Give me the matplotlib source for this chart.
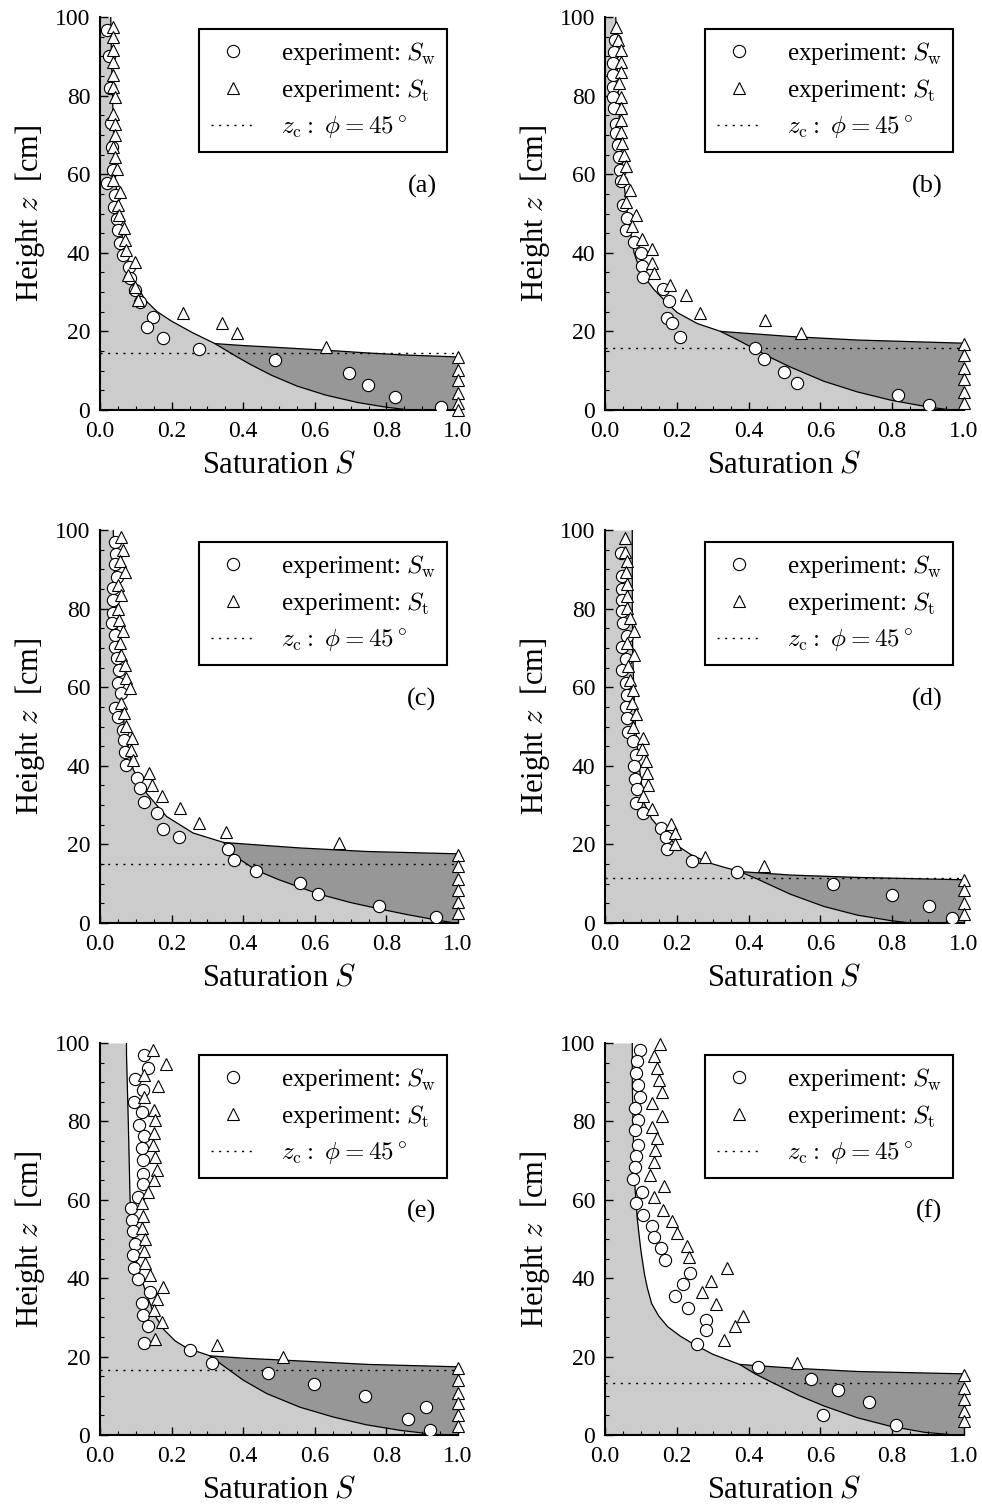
import numpy as np
import matplotlib
matplotlib.use('Agg')
import matplotlib.pyplot as plt
from matplotlib.ticker import MultipleLocator

plt.rcParams['font.family'] = ['Liberation Serif', 'DejaVu Serif']
plt.rcParams['mathtext.fontset'] = 'cm'

# ---- panel (a) ----
sw_s_a = [0.02, 0.025, 0.028, 0.03, 0.033, 0.036, 0.019, 0.042, 0.04, 0.047, 0.05, 0.056, 0.063,
          0.082, 0.084, 0.098, 0.112, 0.147, 0.130, 0.177, 0.277, 0.488, 0.696, 0.749, 0.823, 0.953]
sw_z_a = [96.8, 90, 82, 73, 67, 61, 57.8, 54.7, 51.7, 48.7, 45.7, 42.4, 39.4,
          36.4, 33.5, 30.5, 27.5, 23.7, 21.2, 18.2, 15.4, 12.7, 9.5, 6.4, 3.4, 0.8]
st_s_a = [0.035, 0.035, 0.035, 0.035, 0.035, 0.035, 0.042, 0.037, 0.042, 0.042, 0.037, 0.042,
          0.047, 0.037, 0.056, 0.051, 0.054, 0.067, 0.070, 0.074, 0.098, 0.079, 0.098, 0.107,
          0.233, 0.340, 0.384, 0.631, 1.0, 1.0, 1.0, 1.0, 1.0, 1.0]
st_z_a = [97.5, 95, 91.5, 88.6, 85.2, 82.2, 79.7, 75.4, 72.9, 69.9, 66.9, 64.4, 61.4, 58.5,
          55.5, 52.1, 49.6, 46.2, 43.2, 40.7, 37.7, 34.3, 31.4, 28, 24.6, 22.2, 19.7, 16.1,
          13.6, 10.2, 7.6, 4.2, 1.7, 0]
curve_s_a = [0.03, 0.032, 0.035, 0.038, 0.042, 0.05, 0.06, 0.075, 0.095, 0.126, 0.16, 0.2, 0.26,
             0.321, 0.37, 0.42, 0.48, 0.55, 0.63, 0.72, 0.80, 0.865]
curve_z_a = [100, 90, 80, 70, 60, 52, 45, 39, 33, 28, 25, 22.6, 19.6,
             16.9, 14.2, 11.6, 8.8, 6.1, 3.8, 1.9, 0.7, 0]
branch_s_a = [0.321, 0.4, 0.5, 0.633, 0.75, 0.85, 1.0]
branch_z_a = [16.9, 16.4, 15.9, 15.2, 14.5, 14.0, 13.5]
zc_a = 14.6

# ---- panel (b) ----
sw_s_b = [0.028, 0.025, 0.023, 0.023, 0.023, 0.023, 0.025, 0.03, 0.03, 0.035, 0.039, 0.042,
          0.044, 0.051, 0.062, 0.058, 0.081, 0.101, 0.104, 0.107, 0.162, 0.178, 0.174, 0.188,
          0.209, 0.418, 0.443, 0.499, 0.534, 0.816, 0.902]
sw_z_b = [94.2, 91.1, 88.3, 85.2, 82.2, 79.7, 76.8, 72.9, 70.4, 67.5, 64.5, 61.1,
          58.2, 52.2, 48.9, 45.9, 42.7, 40, 36.6, 33.9, 30.9, 27.7, 23.5, 22.1,
          18.7, 15.9, 13.1, 9.7, 6.8, 3.8, 1.3]
st_s_b = [0.030, 0.036, 0.044, 0.044, 0.044, 0.039, 0.044, 0.044, 0.044, 0.044, 0.048, 0.053,
          0.058, 0.051, 0.071, 0.058, 0.085, 0.076, 0.104, 0.132, 0.132, 0.136, 0.181, 0.225,
          0.264, 0.445, 0.547, 1.0, 1.0, 1.0, 1.0, 1.0, 1.0]
st_z_b = [97.5, 94.2, 91.5, 88.6, 86, 83.1, 79.7, 76.8, 73.8, 70.8, 67.9, 64.9,
          62, 59, 55.9, 52.8, 49.7, 46.9, 43.5, 41, 37.4, 34.9, 31.7, 29.2,
          24.8, 22.9, 19.7, 16.7, 13.9, 10.8, 7.9, 4.6, 1.9]
curve_s_b = [0.03, 0.033, 0.037, 0.042, 0.05, 0.062, 0.081, 0.1, 0.136, 0.17, 0.201, 0.257,
             0.322, 0.37, 0.418, 0.46, 0.517, 0.61, 0.703, 0.796, 0.898, 0.963]
curve_z_b = [100, 90, 80, 70, 60, 50, 40, 35, 30.7, 27.5, 24.8, 22.0,
             20.0, 17.8, 15.5, 13.4, 10.9, 7.3, 4.6, 2.5, 0.8, 0]
branch_s_b = [0.322, 0.517, 0.703, 1.0]
branch_z_b = [20.0, 18.7, 17.8, 17.0]
zc_b = 15.9

# ---- panel (c) ----
sw_s_c = [0.042, 0.045, 0.042, 0.048, 0.037, 0.037, 0.037, 0.033, 0.042, 0.042, 0.048, 0.054,
          0.051, 0.06, 0.042, 0.051, 0.063, 0.067, 0.07, 0.073, 0.104, 0.112, 0.123, 0.158,
          0.177, 0.221, 0.358, 0.374, 0.437, 0.558, 0.609, 0.78, 0.938]
sw_z_c = [96.9, 93.8, 91.3, 88.1, 85.2, 82.2, 79, 76.3, 73.3, 70.3, 67.4, 64.4,
          61, 58.5, 54.8, 52.5, 49.2, 46.6, 43.6, 40.3, 37, 34.3, 30.9, 28,
          23.9, 21.9, 18.8, 16.1, 13.3, 10.3, 7.5, 4.4, 1.5]
st_s_c = [0.06, 0.063, 0.056, 0.07, 0.051, 0.058, 0.051, 0.054, 0.063, 0.056, 0.06, 0.07,
          0.073, 0.084, 0.058, 0.067, 0.073, 0.088, 0.087, 0.093, 0.138, 0.144, 0.172, 0.223,
          0.277, 0.353, 0.668, 1.0, 1.0, 1.0, 1.0, 1.0, 1.0]
st_z_c = [98.3, 94.9, 92, 89.4, 86, 83.5, 79.9, 77.1, 74.2, 71.2, 68.2, 65.7,
          62.3, 59.7, 55.9, 53.4, 50.2, 47, 44.1, 41.5, 38.1, 35.2, 32.2, 29.2,
          25.4, 23.1, 20.3, 17.4, 14.6, 11.2, 8.5, 5.3, 2.5]
curve_s_c = [0.037, 0.04, 0.045, 0.05, 0.057, 0.068, 0.08, 0.093, 0.13, 0.186, 0.26, 0.345,
             0.38, 0.437, 0.5, 0.558, 0.61, 0.7, 0.78, 0.86, 0.938, 0.99]
curve_z_c = [100, 90, 80, 70, 60, 50, 44, 39, 33, 27.1, 22.9, 20.5,
             16.8, 13.4, 11.0, 9.1, 7.4, 5.2, 3.6, 2.1, 0.8, 0]
branch_s_c = [0.345, 0.45, 0.558, 0.744, 1.0]
branch_z_c = [20.5, 19.8, 19.1, 18.2, 17.6]
zc_c = 15.0

# ---- panel (d) ----
sw_s_d = [0.044, 0.046, 0.048, 0.048, 0.046, 0.051, 0.062, 0.048, 0.058, 0.048, 0.058, 0.062,
          0.058, 0.062, 0.064, 0.079, 0.085, 0.081, 0.083, 0.088, 0.085, 0.107, 0.155, 0.169,
          0.172, 0.241, 0.369, 0.636, 0.8, 0.903, 0.967]
sw_z_d = [94.1, 88.3, 85, 82.2, 79.4, 76.3, 73.1, 70.3, 67.1, 64.4, 61, 58.1,
          54.9, 52.1, 48.7, 46.2, 42.8, 40, 36.6, 34.1, 30.5, 28.1, 24.2, 21.9,
          18.8, 15.9, 13.1, 10, 7.2, 4.2, 1.3]
st_s_d = [0.056, 0.056, 0.06, 0.058, 0.06, 0.062, 0.06, 0.07, 0.081, 0.062, 0.081, 0.064,
          0.07, 0.079, 0.074, 0.087, 0.079, 0.107, 0.104, 0.113, 0.116, 0.12, 0.107, 0.132,
          0.183, 0.194, 0.195, 0.279, 0.443, 1.0, 1.0, 1.0, 1.0]
st_z_d = [97.9, 94.5, 92, 89.4, 86.3, 83.1, 80.1, 77.5, 74.4, 71.2, 68.2, 65.3,
          61.9, 59.3, 56.1, 53.2, 50, 47, 44.2, 41.1, 38.1, 35.2, 32.2, 29,
          25.3, 22.9, 20.1, 16.9, 14.4, 11.0, 8.3, 5.1, 2.4]
curve_s_d = [0.076, 0.076, 0.077, 0.08, 0.085, 0.095, 0.109, 0.13, 0.164, 0.2, 0.239, 0.29,
             0.331, 0.375, 0.424, 0.517, 0.61, 0.703, 0.796, 0.851]
curve_z_d = [100, 80, 70, 60, 50, 40, 30.5, 26.5, 22.8, 19.8, 17.4, 15.3,
             14.2, 13.1, 11.2, 7.3, 4.2, 2.0, 0.6, 0]
branch_s_d = [0.375, 0.517, 0.703, 1.0]
branch_z_d = [13.1, 12.2, 11.6, 11.0]
zc_d = 11.4

# ---- panel (e) ----
sw_s_e = [0.124, 0.135, 0.098, 0.119, 0.095, 0.116, 0.11, 0.123, 0.118, 0.121, 0.121, 0.119,
          0.105, 0.087, 0.09, 0.091, 0.098, 0.093, 0.096, 0.105, 0.14, 0.116, 0.121, 0.133,
          0.123, 0.251, 0.313, 0.468, 0.598, 0.74, 0.86, 0.91, 0.921]
sw_z_e = [96.9, 93.5, 90.9, 88.1, 85, 82.4, 79, 76.2, 73.1, 70.1, 66.7, 64,
          60.7, 57.8, 54.8, 52.1, 48.7, 45.9, 42.5, 39.9, 36.5, 33.6, 30.6, 27.8,
          23.4, 21.8, 18.4, 15.9, 12.9, 9.9, 4.0, 7.2, 1.3]
st_s_e = [0.149, 0.183, 0.123, 0.161, 0.123, 0.151, 0.155, 0.152, 0.149, 0.153, 0.158, 0.152,
          0.133, 0.118, 0.121, 0.116, 0.126, 0.123, 0.126, 0.14, 0.177, 0.158, 0.151, 0.172,
          0.153, 0.326, 0.512, 1.0, 1.0, 1.0, 1.0, 1.0, 1.0]
st_z_e = [98.3, 94.7, 91.9, 89, 86.2, 83, 80.3, 77.1, 73.9, 70.9, 67.7, 65,
          62, 59.2, 55.8, 52.9, 49.9, 47, 43.8, 40.8, 37.8, 34.8, 31.9, 28.9,
          24.6, 22.9, 19.8, 17, 14, 10.8, 8.2, 5.1, 2.3]
curve_s_e = [0.074, 0.074, 0.079, 0.084, 0.092, 0.10, 0.115, 0.13, 0.15, 0.177, 0.21, 0.242,
             0.307, 0.35, 0.40, 0.465, 0.558, 0.651, 0.744, 0.837, 0.92, 0.96]
curve_z_e = [100, 97, 80, 60, 50, 45, 40, 36, 31, 27, 24, 22.2,
             20.2, 17.3, 14.0, 10.6, 7.1, 4.6, 2.6, 1.2, 0.3, 0]
branch_s_e = [0.307, 0.4, 0.512, 0.75, 1.0]
branch_z_e = [20.2, 19.6, 19.1, 18.0, 17.4]
zc_e = 16.6

# ---- panel (f) ----
sw_s_f = [0.097, 0.088, 0.087, 0.093, 0.097, 0.083, 0.093, 0.083, 0.093, 0.087, 0.083, 0.078,
          0.104, 0.087, 0.107, 0.132, 0.136, 0.157, 0.166, 0.237, 0.218, 0.194, 0.232, 0.28,
          0.28, 0.257, 0.427, 0.575, 0.649, 0.735, 0.607, 0.81]
sw_z_f = [98.3, 95.4, 92.4, 89.2, 86.3, 83.5, 80.3, 77.8, 74, 71.2, 68.4, 65.2,
          62.1, 59.3, 56.1, 53.4, 50.6, 47.7, 44.7, 41.3, 38.5, 35.4, 32.4, 29.4,
          26.7, 23.3, 17.3, 14.4, 11.4, 8.5, 5.0, 2.5]
st_s_f = [0.152, 0.136, 0.146, 0.15, 0.16, 0.132, 0.16, 0.132, 0.146, 0.139, 0.136, 0.125,
          0.136, 0.164, 0.162, 0.188, 0.201, 0.229, 0.234, 0.341, 0.294, 0.271, 0.31, 0.384,
          0.362, 0.331, 0.536, 1.0, 1.0, 1.0, 1.0, 1.0]
st_z_f = [99.7, 96.6, 93.5, 90.5, 87.5, 84.6, 81.3, 78.6, 75.7, 72.7, 69.7, 66.3,
          60.8, 63.4, 57.4, 54.5, 51.5, 48.1, 45.5, 42.6, 39.2, 36.4, 33.5, 30.4,
          27.7, 24.3, 18.4, 15.2, 12, 9.2, 6.1, 3.6]
curve_s_f = [0.076, 0.076, 0.078, 0.082, 0.09, 0.1, 0.11, 0.118, 0.13, 0.15, 0.175, 0.21,
             0.245, 0.3, 0.375, 0.42, 0.468, 0.542, 0.61, 0.703, 0.796, 0.889, 0.972]
curve_z_f = [100, 90, 80, 65, 55, 47, 41, 37.5, 33.5, 30.3, 27.6, 25.2,
             23.3, 20.6, 18.0, 15.5, 13.3, 10.0, 7.4, 4.4, 2.2, 0.7, 0]
branch_s_f = [0.375, 0.533, 0.703, 1.0]
branch_z_f = [18.0, 17.0, 16.2, 15.6]
zc_f = 13.3

panels = [
    ('(a)', sw_s_a, sw_z_a, st_s_a, st_z_a, curve_s_a, curve_z_a, branch_s_a, branch_z_a, zc_a),
    ('(b)', sw_s_b, sw_z_b, st_s_b, st_z_b, curve_s_b, curve_z_b, branch_s_b, branch_z_b, zc_b),
    ('(c)', sw_s_c, sw_z_c, st_s_c, st_z_c, curve_s_c, curve_z_c, branch_s_c, branch_z_c, zc_c),
    ('(d)', sw_s_d, sw_z_d, st_s_d, st_z_d, curve_s_d, curve_z_d, branch_s_d, branch_z_d, zc_d),
    ('(e)', sw_s_e, sw_z_e, st_s_e, st_z_e, curve_s_e, curve_z_e, branch_s_e, branch_z_e, zc_e),
    ('(f)', sw_s_f, sw_z_f, st_s_f, st_z_f, curve_s_f, curve_z_f, branch_s_f, branch_z_f, zc_f),
]

light = '#cbcccb'
dark = '#979797'

fig = plt.figure(figsize=(9.82, 15.06), dpi=100)

# axes boxes in pixels (left, top, right, bottom)
cols = [(100, 458), (605, 964)]
rows = [(17, 410), (530, 923), (1043, 1435)]
W, H = 982.0, 1506.0

for i, (tag, sw_s, sw_z, st_s, st_z, c_s, c_z, b_s, b_z, zc) in enumerate(panels):
    x0, x1 = cols[i % 2]
    y0, y1 = rows[i // 2]
    ax = fig.add_axes([x0 / W, 1 - y1 / H, (x1 - x0) / W, (y1 - y0) / H])

    c_s = np.array(c_s)
    c_z = np.array(c_z)
    # light region: left of the model curve
    ax.fill_betweenx(c_z, 0, c_s, color=light, lw=0, zorder=1)
    # dark region: between the two branches, closed by S = 1
    k = np.argmin(np.abs(c_s - b_s[0]))
    low_s = c_s[k:]
    low_z = c_z[k:]
    poly_s = list(b_s) + [1.0] + list(low_s[::-1])
    poly_z = list(b_z) + [0.0] + list(low_z[::-1])
    ax.fill(poly_s, poly_z, color=dark, lw=0, zorder=1)

    ax.plot(c_s, c_z, color='k', lw=0.9, zorder=2)
    ax.plot(b_s, b_z, color='k', lw=0.9, zorder=2)
    ax.plot([0, 1], [zc, zc], color='k', lw=1.0, ls=(0, (1.5, 4)), zorder=2,
            label=r'$z_{\rm c}:\ \phi = 45^\circ$')

    ax.plot(sw_s, sw_z, 'o', ms=8.8, mfc='white', mec='k', mew=0.8, zorder=3,
            label=r'experiment: $S_{\rm w}$')
    ax.plot(st_s, st_z, '^', ms=9.2, mfc='white', mec='k', mew=0.8, zorder=4,
            label=r'experiment: $S_{\rm t}$', clip_on=False)

    ax.set_xlim(0, 1)
    ax.set_ylim(0, 100)
    ax.spines['top'].set_visible(False)
    ax.spines['right'].set_visible(False)
    ax.spines['left'].set_linewidth(1.5)
    ax.spines['bottom'].set_linewidth(1.5)
    ax.xaxis.set_major_locator(MultipleLocator(0.2))
    ax.xaxis.set_minor_locator(MultipleLocator(0.05))
    ax.yaxis.set_major_locator(MultipleLocator(20))
    ax.yaxis.set_minor_locator(MultipleLocator(5))
    ax.xaxis.set_major_formatter(plt.FuncFormatter(lambda v, p: '%.1f' % v))
    ax.tick_params(which='both', direction='in', top=False, right=False, labelsize=17)
    ax.tick_params(which='major', length=6, width=1.0)
    ax.tick_params(which='minor', length=3, width=0.8)
    ax.tick_params(axis='x', which='major', pad=8)
    ax.tick_params(axis='y', which='major', pad=7)
    ax.set_xlabel(r'Saturation $S$', fontsize=22, labelpad=6)
    ax.set_ylabel(r'Height $z$  [cm]', fontsize=22, labelpad=6)

    h, l = ax.get_legend_handles_labels()
    leg = ax.legend([h[1], h[2], h[0]], [l[1], l[2], l[0]], loc='upper right',
                    bbox_to_anchor=(0.97, 0.97), borderaxespad=0, fontsize=18,
                    fancybox=False, framealpha=1, edgecolor='k', handlelength=1.8,
                    handletextpad=1.0, borderpad=0.45, labelspacing=0.4,
                    markerscale=1.0)
    leg.get_frame().set_linewidth(1.5)
    leg.set_zorder(6)

    ax.text(0.94, 0.57, tag, transform=ax.transAxes, ha='right', va='center', fontsize=19)

fig.savefig('out.png', dpi=100)
